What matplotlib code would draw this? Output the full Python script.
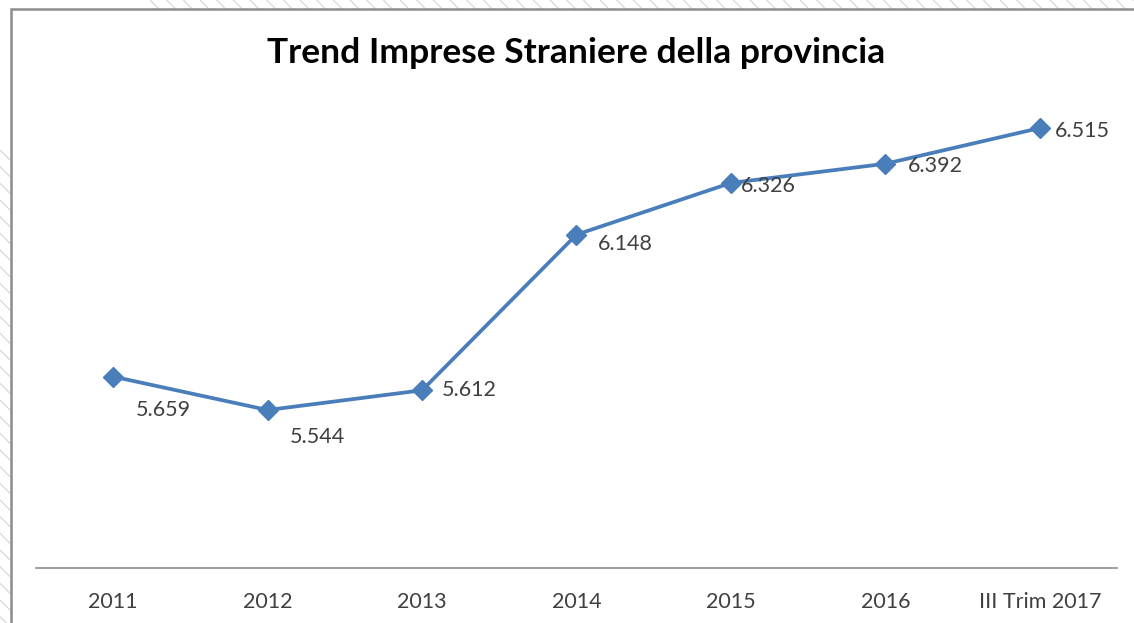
import matplotlib
matplotlib.use("Agg")
import matplotlib.pyplot as plt
from matplotlib.patches import Rectangle

# Data: foreign-owned businesses in the province
categories = ["2011", "2012", "2013", "2014", "2015", "2016", "III Trim 2017"]
imprese = [5659, 5544, 5612, 6148, 6326, 6392, 6515]

# Label placement (offset in pixels from each marker: dx, dy)
label_offsets = [(50, -33), (50, -27), (47, 0), (49, -9), (37, -3), (50, -2), (43, -3)]

title = "Trend Imprese Straniere della provincia"

W, H, DPI = 1134, 623, 100
plt.rcParams["font.family"] = ["Lato", "DejaVu Sans"]

fig = plt.figure(figsize=(W / DPI, H / DPI), dpi=DPI)
fig.patch.set_facecolor("white")

def fx(px):
    return px / W

def fy(py):
    return 1 - py / H

# Hatched surroundings outside the chart frame
hatch_col = "#d4d4d4"
plt.rcParams["hatch.linewidth"] = 0.8
fig.patches.append(Rectangle((fx(150), fy(10)), fx(W) - fx(150), 10 / H,
                             transform=fig.transFigure, facecolor="white",
                             edgecolor=hatch_col, hatch="\\\\", linewidth=0, zorder=0))
fig.patches.append(Rectangle((0, 0), fx(10), fy(150),
                             transform=fig.transFigure, facecolor="white",
                             edgecolor=hatch_col, hatch="\\\\", linewidth=0, zorder=0))
# Chart frame
fig.patches.append(Rectangle((fx(11), -0.05), 1.1, fy(9) + 0.05,
                             transform=fig.transFigure, facecolor="white",
                             edgecolor="#8c8c8c", linewidth=1.8, zorder=1))

# Plot area
left, right, bottom = 36, 1117, 568
ymin, ymax = 5000, 6800
top = bottom - (ymax - ymin) * 0.2904
ax = fig.add_axes([fx(left), fy(bottom), fx(right) - fx(left), (bottom - top) / H])
ax.set_facecolor("none")
ax.set_zorder(2)

x = list(range(len(categories)))
color = "#4a7ebb"
ax.plot(x, imprese, color=color, linewidth=2.7, marker="D", markersize=10,
        markerfacecolor=color, markeredgecolor=color, zorder=3)

ax.set_xlim(-0.5, len(categories) - 0.5)
ax.set_ylim(ymin, ymax)
ax.set_xticks(x)
ax.set_xticklabels(categories, fontsize=15.5, color="#404040")
ax.tick_params(axis="x", length=0, pad=17)
ax.set_yticks([])
for s in ["left", "right", "top"]:
    ax.spines[s].set_visible(False)
ax.spines["bottom"].set_color("#8c8c8c")
ax.spines["bottom"].set_linewidth(1.2)

for xi, v, (dx, dy) in zip(x, imprese, label_offsets):
    ax.annotate(f"{v:,}".replace(",", "."), (xi, v),
                xytext=(dx * 72 / DPI, dy * 72 / DPI), textcoords="offset points",
                ha="center", va="center", fontsize=15.5, color="#404040", zorder=4)

fig.text(fx(576), fy(53), title, ha="center", va="center",
         fontsize=25.5, fontweight="bold", color="black", zorder=5)

fig.savefig("out.png", dpi=DPI, facecolor="white")
